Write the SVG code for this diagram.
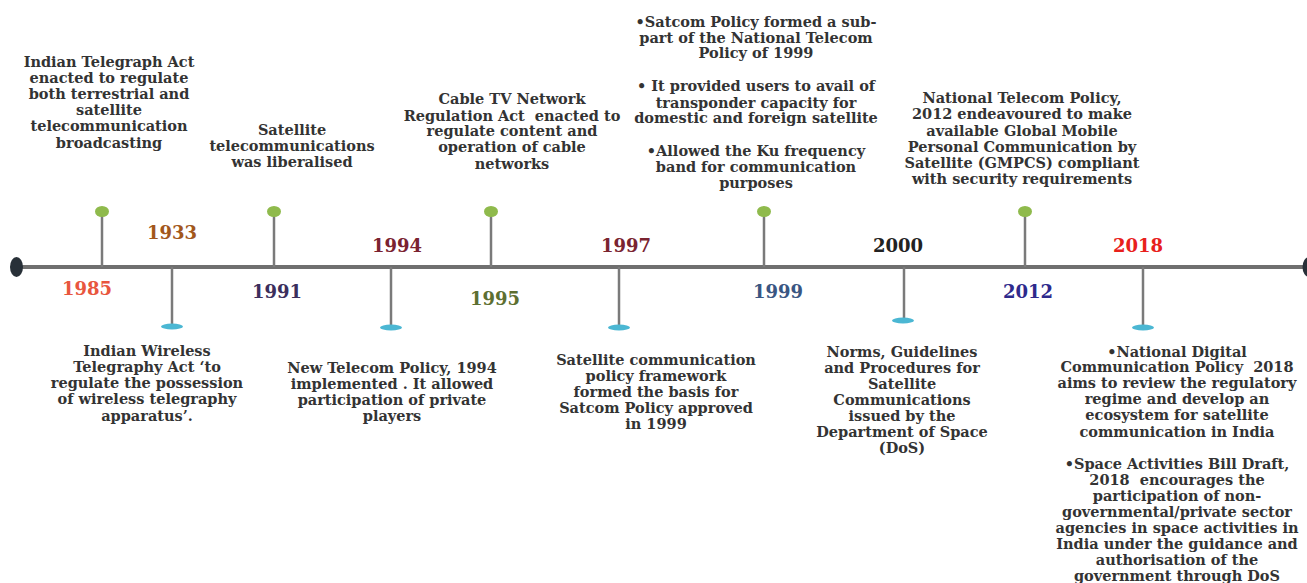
<svg xmlns="http://www.w3.org/2000/svg" width="1307" height="583" viewBox="0 0 1307 583">
<style>
.t{font-family:"DejaVu Serif","Liberation Serif",serif;font-weight:bold;font-size:14.5px;fill:#333;text-anchor:middle;white-space:pre}
.y{font-family:"DejaVu Serif","Liberation Serif",serif;font-weight:bold;font-size:18px;text-anchor:middle}
.stem{stroke:#7a7a7a;stroke-width:2.5;fill:none}
.dot{fill:#8fba4c}
.foot{fill:#4bb7d3}
</style>
<rect width="1307" height="583" fill="#fff"/>
<g id="connectors">
<line x1="16" y1="267" x2="1306" y2="267" stroke="#6f6f6f" stroke-width="4"/>
<line class="stem" x1="102" y1="212" x2="102" y2="267"/>
<line class="stem" x1="274" y1="212" x2="274" y2="267"/>
<line class="stem" x1="491" y1="212" x2="491" y2="267"/>
<line class="stem" x1="764" y1="212" x2="764" y2="267"/>
<line class="stem" x1="1025" y1="212" x2="1025" y2="267"/>
<line class="stem" x1="172" y1="267" x2="172" y2="326"/>
<line class="stem" x1="391" y1="267" x2="391" y2="327"/>
<line class="stem" x1="619" y1="267" x2="619" y2="327"/>
<line class="stem" x1="904" y1="267" x2="904" y2="320"/>
<line class="stem" x1="1143" y1="267" x2="1143" y2="327"/>
<ellipse cx="16.5" cy="267" rx="6.5" ry="10" fill="#283038"/>
<ellipse cx="1309" cy="267" rx="6.5" ry="10" fill="#283038"/>
</g>
<g id="n1985">
<ellipse class="dot" cx="102" cy="211.5" rx="7" ry="5.5"/>
<text class="y" x="87" y="295" fill="#e8563e">1985</text>
<text class="t" x="109" y="67">Indian Telegraph Act</text>
<text class="t" x="109" y="83">enacted to regulate</text>
<text class="t" x="109" y="99">both terrestrial and</text>
<text class="t" x="109" y="115">satellite</text>
<text class="t" x="109" y="131">telecommunication</text>
<text class="t" x="109" y="148">broadcasting</text>
</g>
<g id="n1933">
<ellipse class="foot" cx="172" cy="326.5" rx="11" ry="3"/>
<text class="y" x="172" y="239" fill="#a2571c">1933</text>
<text class="t" x="147" y="356">Indian Wireless</text>
<text class="t" x="147" y="372">Telegraphy Act ‘to</text>
<text class="t" x="147" y="388">regulate the possession</text>
<text class="t" x="147" y="404">of wireless telegraphy</text>
<text class="t" x="147" y="421">apparatus’.</text>
</g>
<g id="n1991">
<ellipse class="dot" cx="274" cy="211.5" rx="7" ry="5.5"/>
<text class="y" x="277" y="298" fill="#3b2e5c">1991</text>
<text class="t" x="292" y="135">Satellite</text>
<text class="t" x="292" y="151">telecommunications</text>
<text class="t" x="292" y="167">was liberalised</text>
</g>
<g id="n1994">
<ellipse class="foot" cx="391" cy="327.5" rx="11" ry="3"/>
<text class="y" x="397" y="252" fill="#7a2230">1994</text>
<text class="t" x="392" y="373">New Telecom Policy, 1994</text>
<text class="t" x="392" y="389">implemented . It allowed</text>
<text class="t" x="392" y="405">participation of private</text>
<text class="t" x="392" y="421">players</text>
</g>
<g id="n1995">
<ellipse class="dot" cx="491" cy="211.5" rx="7" ry="5.5"/>
<text class="y" x="495" y="305" fill="#5d6f31">1995</text>
<text class="t" x="512" y="104">Cable TV Network</text>
<text class="t" x="512" y="121">Regulation Act  enacted to</text>
<text class="t" x="512" y="136">regulate content and</text>
<text class="t" x="512" y="152">operation of cable</text>
<text class="t" x="512" y="169">networks</text>
</g>
<g id="n1997">
<ellipse class="foot" cx="619" cy="327.5" rx="11" ry="3"/>
<text class="y" x="626" y="252" fill="#7a2430">1997</text>
<text class="t" x="656" y="365">Satellite communication</text>
<text class="t" x="656" y="381">policy framework</text>
<text class="t" x="656" y="397">formed the basis for</text>
<text class="t" x="656" y="413">Satcom Policy approved</text>
<text class="t" x="656" y="429">in 1999</text>
</g>
<g id="n1999">
<ellipse class="dot" cx="764" cy="211.5" rx="7" ry="5.5"/>
<text class="y" x="778" y="298" fill="#3a5682">1999</text>
<text class="t" x="756" y="27">•Satcom Policy formed a sub-</text>
<text class="t" x="756" y="43">part of the National Telecom</text>
<text class="t" x="756" y="58">Policy of 1999</text>
<text class="t" x="756" y="91">• It provided users to avail of</text>
<text class="t" x="756" y="108">transponder capacity for</text>
<text class="t" x="756" y="123">domestic and foreign satellite</text>
<text class="t" x="756" y="156">•Allowed the Ku frequency</text>
<text class="t" x="756" y="172">band for communication</text>
<text class="t" x="756" y="188">purposes</text>
</g>
<g id="n2000">
<ellipse class="foot" cx="903" cy="320.5" rx="11" ry="3"/>
<text class="y" x="898" y="252" fill="#222">2000</text>
<text class="t" x="902" y="357">Norms, Guidelines</text>
<text class="t" x="902" y="373">and Procedures for</text>
<text class="t" x="902" y="389">Satellite</text>
<text class="t" x="902" y="405">Communications</text>
<text class="t" x="902" y="421">issued by the</text>
<text class="t" x="902" y="437">Department of Space</text>
<text class="t" x="902" y="453">(DoS)</text>
</g>
<g id="n2012">
<ellipse class="dot" cx="1025" cy="211.5" rx="7" ry="5.5"/>
<text class="y" x="1028" y="298" fill="#2e2a8c">2012</text>
<text class="t" x="1022" y="103">National Telecom Policy,</text>
<text class="t" x="1022" y="119">2012 endeavoured to make</text>
<text class="t" x="1022" y="136">available Global Mobile</text>
<text class="t" x="1022" y="152">Personal Communication by</text>
<text class="t" x="1022" y="168">Satellite (GMPCS) compliant</text>
<text class="t" x="1022" y="184">with security requirements</text>
</g>
<g id="n2018">
<ellipse class="foot" cx="1143" cy="327.5" rx="11" ry="3"/>
<text class="y" x="1138" y="252" fill="#e8201c">2018</text>
<text class="t" x="1177" y="357">•National Digital</text>
<text class="t" x="1177" y="372">Communication Policy  2018</text>
<text class="t" x="1177" y="388">aims to review the regulatory</text>
<text class="t" x="1177" y="404">regime and develop an</text>
<text class="t" x="1177" y="420">ecosystem for satellite</text>
<text class="t" x="1177" y="437">communication in India</text>
<text class="t" x="1177" y="469">•Space Activities Bill Draft,</text>
<text class="t" x="1177" y="485">2018  encourages the</text>
<text class="t" x="1177" y="501">participation of non-</text>
<text class="t" x="1177" y="517">governmental/private sector</text>
<text class="t" x="1177" y="533">agencies in space activities in</text>
<text class="t" x="1177" y="549">India under the guidance and</text>
<text class="t" x="1177" y="565">authorisation of the</text>
<text class="t" x="1177" y="581">government through DoS</text>
</g>
</svg>
